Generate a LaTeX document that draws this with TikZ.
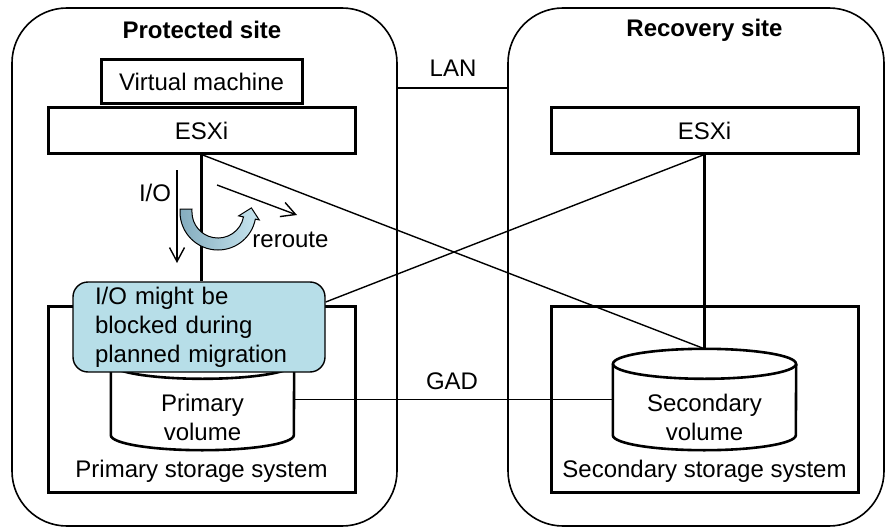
\documentclass[tikz,border=0pt]{standalone}
\usepackage{fontspec}
\setmainfont{Liberation Sans}
\usetikzlibrary{arrows.meta, calc}
\definecolor{calloutblue}{RGB}{183,222,232}
\definecolor{turndark}{RGB}{132,172,190}
\definecolor{turnlight}{RGB}{200,230,240}

\begin{document}
\begin{tikzpicture}[x=1pt, y=-1pt]
    \tikzstyle{every node}=[font=\fontsize{24}{28.5}\selectfont, inner sep=0pt]
    \tikzstyle{site}=[draw, line width=1.6pt, rounded corners=55pt]
    \tikzstyle{box}=[draw, line width=3pt]
    \tikzstyle{thinline}=[line width=1.4pt]
    \tikzstyle{ioarrow}=[line width=1.4pt, -{Straight Barb[length=14pt, width=15pt]}]
    \tikzstyle{callout}=[draw, line width=1.4pt, fill=calloutblue, rounded corners=15pt,
        minimum height=90pt, text width=208pt, inner xsep=22pt, align=left,
        font=\fontsize{24}{29}\selectfont]
    \useasboundingbox (0,0) rectangle (891,532);
    \node[site, minimum width=385pt, minimum height=518pt] (psite) at (204.5,267) {};
    \node[site, minimum width=376pt, minimum height=518pt] (rsite) at (696,267) {};
    \node[font=\fontsize{24}{28.5}\selectfont\bfseries] (ptitle) at (202,30) {Protected site};
    \node[font=\fontsize{24}{28.5}\selectfont\bfseries] (rtitle) at (704.5,30) {Recovery site};
    \draw[thinline] (psite.east |- 0,88) -- (rsite.west |- 0,88);
    \node (lan) at (453,68.5) {LAN};
    \node[box, minimum width=201pt, minimum height=44pt] (vm) at (201.5,82) {Virtual machine};
    \node[box, minimum width=307pt, minimum height=45pt] (esxiL) at (201.5,130.5) {ESXi};
    \node[box, minimum width=307pt, minimum height=45pt] (esxiR) at (704.5,130.5) {ESXi};
    \node[box, minimum width=307pt, minimum height=186pt] (pstore) at (201.5,399.5) {};
    \node[box, minimum width=307pt, minimum height=186pt] (sstore) at (704.5,399.5) {};
    \node[anchor=base] (pstorelabel) at (201.5,477) {Primary storage system};
    \node[anchor=base] (sstorelabel) at (704.5,477) {Secondary storage system};
    \node[minimum width=183pt, minimum height=71pt] (pvol) at (202.5,399.5) {};
    \node[minimum width=183pt, minimum height=71pt] (svol) at (704.5,399.5) {};
    \coordinate (svtop) at ($(svol.north)+(0,-15)$);
    \draw[thinline] (pvol.east) -- (svol.west);
    \node (gad) at (452,381) {GAD};
    \draw[box, line width=2.6pt, fill=white] (pvol.north west) -- (pvol.south west)
        arc[start angle=180, end angle=0, x radius=91.5, y radius=15] -- (pvol.north east);
    \draw[box, line width=2.6pt, fill=white] (pvol.north) ellipse[x radius=91.5, y radius=15];
    \draw[box, line width=2.6pt, fill=white] (svol.north west) -- (svol.south west)
        arc[start angle=180, end angle=0, x radius=91.5, y radius=15] -- (svol.north east);
    \draw[box, line width=2.6pt, fill=white] (svol.north) ellipse[x radius=91.5, y radius=15];
    \node[align=center] (pvoltext) at (202.5,417.5) {Primary\\volume};
    \node[align=center] (svoltext) at (704.5,417.5) {Secondary\\volume};
    \node[callout] (callout) at (199,327) {I/O might be\\blocked during\\planned migration};
    \draw[thinline] (esxiL.south) -- (svtop);
    \draw[thinline] (esxiR.south) -- (callout.east |- 0,302);
    \draw[box] (esxiL.south) -- (esxiL.south |- callout.north);
    \draw[box] (esxiR.south) -- (svtop);
    \coordinate (iostart) at (177,170);
    \coordinate (ioend) at (177,263);
    \coordinate (newstart) at (217,185);
    \coordinate (newend) at (297,215);
    \draw[ioarrow] (iostart) -- (ioend);
    \draw[ioarrow] (newstart) -- (newend);
    \node (iolabel) at (155,193) {I/O};
    \node (reroutelabel) at (290.5,239.5) {reroute};
    \path[draw, line width=1pt, left color=turndark, right color=turnlight]
        (180,209) -- (180,212) arc[start angle=180, end angle=10.8, radius=38]
        -- (259.2,219.9) -- (251.4,207.9) -- (238.6,215.9) -- (243.5,216.9)
        arc[start angle=10.8, end angle=180, radius=26] -- (192,209) -- cycle;
\end{tikzpicture}
\end{document}
